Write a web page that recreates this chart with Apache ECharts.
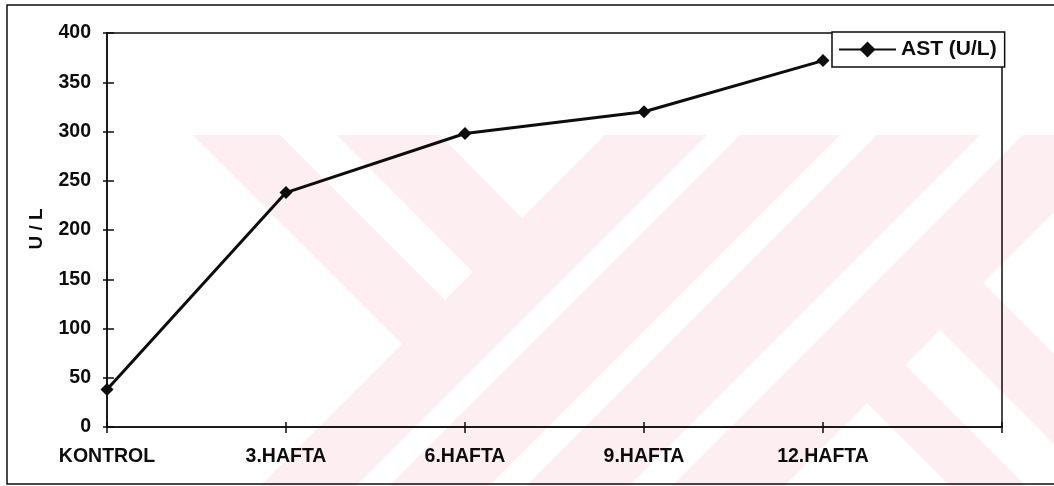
<!DOCTYPE html>
<html>
<head>
<meta charset="utf-8">
<script src="https://cdn.jsdelivr.net/npm/echarts@6/dist/echarts.min.js"></script>
<style>
  html, body { margin: 0; padding: 0; background: #ffffff; }
  #chart { width: 1054px; height: 486px; }
</style>
</head>
<body>
<div id="chart"></div>
<script>
// Category axis: five sampling points plus one empty slot that pads the right side
const categories = ['KONTROL', '3.HAFTA', '6.HAFTA', '9.HAFTA', '12.HAFTA', ''];
// AST activity (U/L) at each sampling point
const astValues = [38, 238, 298, 320, 372, null];
// Value axis scale
const yMin = 0;
const yMax = 400;
const yStep = 50;

const seriesName = 'AST (U/L)';
const yAxisTitle = 'U / L';

const FONT = "'Liberation Sans', Arial, Helvetica, sans-serif";
const INK = '#0d0d0d';
const PAPER_MARK = '#fdeef1';

// Light background emblem printed on the page (decorative polygons, pixel space)
const emblemFill = [[193,135],[1054,135],[1054,486],[260,486],[402,344]];
const emblemCuts = [
  [[280,135],[337,135],[473,272],[445,300]],
  [[440,135],[605,135],[522,218]],
  [[707,135],[740,135],[389,486],[356,486]],
  [[840,135],[877,135],[526,486],[489,486]],
  [[980,135],[1023,135],[672,486],[629,486]],
  [[983,283],[1054,212],[1054,354]],
  [[940,330],[1054,444],[1054,486],[1026,486],[905,365]],
  [[867,403],[950,486],[784,486]]
];

const emblem = [
  { type: 'polygon', z: -20, silent: true, shape: { points: emblemFill }, style: { fill: PAPER_MARK } }
].concat(emblemCuts.map(pts => ({
  type: 'polygon', z: -19, silent: true, shape: { points: pts }, style: { fill: '#ffffff' }
})));

const chart = echarts.init(document.getElementById('chart'), null, { renderer: 'canvas' });

const tickLabelStyle = { color: INK, fontFamily: FONT, fontWeight: 'bold', fontSize: 19.5 };

chart.setOption({
  animation: false,
  backgroundColor: '#ffffff',
  graphic: emblem.concat([
    {
      type: 'rect', z: 10, silent: true,
      shape: { x: 7, y: 5, width: 1070, height: 479 },
      style: { fill: 'none', stroke: INK, lineWidth: 1.5 }
    },
    {
      type: 'text', z: 10, silent: true,
      x: 37, y: 229, rotation: Math.PI / 2,
      style: {
        text: yAxisTitle, fill: INK, font: 'bold 19px ' + FONT,
        align: 'center', verticalAlign: 'middle'
      }
    }
  ]),
  grid: {
    left: 107, top: 33, right: 52, bottom: 59,
    show: true, borderColor: INK, borderWidth: 1.5, backgroundColor: 'transparent'
  },
  legend: {
    data: [seriesName],
    left: 832, top: 32,
    padding: [7, 8, 7, 6],
    itemWidth: 57, itemHeight: 20, itemGap: 0,
    backgroundColor: '#ffffff',
    borderColor: INK, borderWidth: 1.5, borderRadius: 0,
    textStyle: { color: INK, fontFamily: FONT, fontWeight: 'bold', fontSize: 21 }
  },
  xAxis: [
    {
      type: 'category', data: categories, boundaryGap: false,
      axisLine: { show: true, lineStyle: { color: INK, width: 1.5 } },
      axisTick: { show: true, inside: false, length: 6, interval: 0, lineStyle: { color: INK, width: 1.5 } },
      axisLabel: Object.assign({ interval: 0, margin: 20 }, tickLabelStyle),
      splitLine: { show: false }
    },
    {
      type: 'category', data: categories, boundaryGap: false, position: 'bottom',
      axisLine: { show: false },
      axisTick: { show: true, inside: true, length: 5, interval: 0, lineStyle: { color: INK, width: 1.5 } },
      axisLabel: { show: false },
      splitLine: { show: false }
    }
  ],
  yAxis: [
    {
      type: 'value', min: yMin, max: yMax, interval: yStep,
      axisLine: { show: true, lineStyle: { color: INK, width: 1.5 } },
      axisTick: { show: true, inside: false, length: 4, lineStyle: { color: INK, width: 1.5 } },
      axisLabel: Object.assign({ margin: 16 }, tickLabelStyle),
      splitLine: { show: false }
    },
    {
      type: 'value', min: yMin, max: yMax, interval: yStep, position: 'left',
      axisLine: { show: false },
      axisTick: { show: true, inside: true, length: 7, lineStyle: { color: INK, width: 1.5 } },
      axisLabel: { show: false },
      splitLine: { show: false }
    }
  ],
  series: [
    {
      name: seriesName,
      type: 'line',
      data: astValues,
      xAxisIndex: 0, yAxisIndex: 0,
      symbol: 'diamond', symbolSize: 13, showSymbol: true,
      lineStyle: { color: INK, width: 3 },
      itemStyle: { color: INK },
      connectNulls: false,
      z: 3
    }
  ]
});
</script>
</body>
</html>
